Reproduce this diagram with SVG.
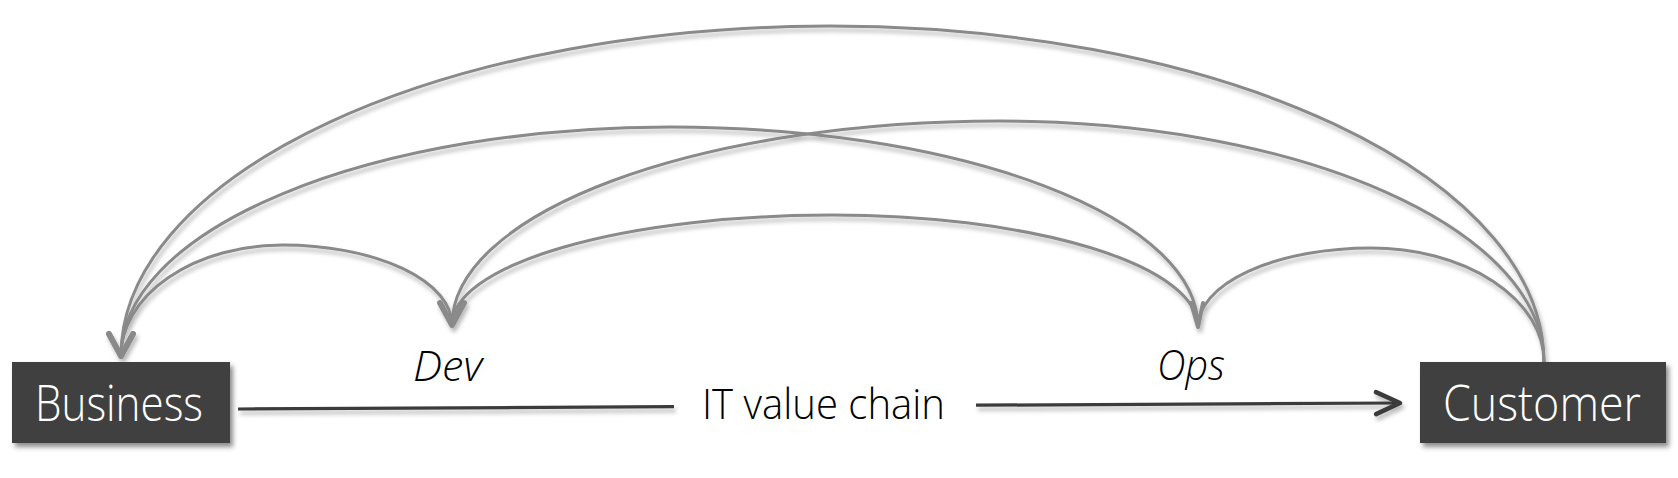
<svg xmlns="http://www.w3.org/2000/svg" width="1678" height="478" viewBox="0 0 1678 478">
  <style>
    .box { fill: #414141; }
    .boxtext { font-family: "Open Sans", "Liberation Sans", sans-serif; font-weight: 300; font-size: 49px; fill: #ffffff; }
    .label { font-family: "Open Sans", "Liberation Sans", sans-serif; font-weight: 300; font-size: 42px; fill: #000000; }
    .italic { font-style: italic; }
    .arc { fill: none; stroke: #8a8a8a; stroke-width: 3; }
    .chain { fill: none; stroke: #3a3a3a; stroke-width: 3.2; }
  </style>
  <defs>
    <filter id="shadow" x="-10%" y="-10%" width="130%" height="140%">
      <feDropShadow dx="3" dy="4" stdDeviation="2.5" flood-color="#000000" flood-opacity="0.45"/>
    </filter>
    <filter id="lineShadow" x="-5%" y="-20%" width="110%" height="150%">
      <feDropShadow dx="2" dy="4" stdDeviation="2" flood-color="#000000" flood-opacity="0.28"/>
    </filter>
    <marker id="grayArrow" markerUnits="userSpaceOnUse" viewBox="-30 -16 34 32" markerWidth="34" markerHeight="32" refX="0" refY="0" orient="auto" overflow="visible">
      <path d="M-22,-12 L0,0 L-22,12" fill="none" stroke="#8a8a8a" stroke-width="5.5" stroke-linecap="round" stroke-linejoin="round"/>
    </marker>
    <marker id="grayArrowNarrow" markerUnits="userSpaceOnUse" viewBox="-30 -16 34 32" markerWidth="34" markerHeight="32" refX="0" refY="0" orient="auto" overflow="visible">
      <path d="M-24,-5 L0,0 L-24,7" fill="none" stroke="#8a8a8a" stroke-width="4" stroke-linecap="round" stroke-linejoin="round"/>
    </marker>
    <marker id="darkArrow" markerUnits="userSpaceOnUse" viewBox="-30 -16 34 32" markerWidth="34" markerHeight="32" refX="0" refY="0" orient="auto" overflow="visible">
      <path d="M-24,-11 L0,0 L-24,11" fill="none" stroke="#3a3a3a" stroke-width="4.5" stroke-linecap="round" stroke-linejoin="round"/>
    </marker>
  </defs>

  <g id="connectors" filter="url(#lineShadow)">
    <path id="customer-to-business" class="arc" d="M1544,362 A714,336 0 0 0 830,26 A709,330 0 0 0 121,356" marker-end="url(#grayArrow)"/>
    <path id="ops-to-business" class="arc" d="M1198,327 A528,200 0 0 0 670,127 A549,229 0 0 0 121,356" marker-end="url(#grayArrow)"/>
    <path id="dev-to-business" class="arc" d="M452,325 A169,80 0 0 0 283,245 A162,111 0 0 0 121,356" marker-end="url(#grayArrow)"/>
    <path id="customer-to-dev" class="arc" d="M1544,362 A544,241 0 0 0 1000,121 A548,204 0 0 0 452,325" marker-end="url(#grayArrow)"/>
    <path id="ops-to-dev" class="arc" d="M1198,327 A366,112 0 0 0 832,215 A380,110 0 0 0 452,325" marker-end="url(#grayArrow)"/>
    <path id="customer-to-ops" class="arc" d="M1544,362 A173,114 0 0 0 1371,248 A173,79 0 0 0 1198,327" marker-end="url(#grayArrowNarrow)"/>
    <line id="chain-left" class="chain" x1="238" y1="409" x2="674" y2="406.7"/>
    <line id="chain-right" class="chain" x1="976" y1="405.2" x2="1400" y2="403" marker-end="url(#darkArrow)"/>
  </g>

  <g id="node-business">
    <rect class="box" x="12" y="362" width="218" height="81" filter="url(#shadow)"/>
    <text class="boxtext" x="35" y="421" textLength="168" lengthAdjust="spacingAndGlyphs">Business</text>
  </g>

  <g id="node-customer">
    <rect class="box" x="1420" y="362" width="246" height="81" filter="url(#shadow)"/>
    <text class="boxtext" x="1443" y="421" textLength="198" lengthAdjust="spacingAndGlyphs">Customer</text>
  </g>

  <g id="label-dev">
    <text class="label italic" x="413" y="381" textLength="69" lengthAdjust="spacingAndGlyphs">Dev</text>
  </g>

  <g id="label-ops">
    <text class="label italic" x="1157" y="380" textLength="68" lengthAdjust="spacingAndGlyphs">Ops</text>
  </g>

  <g id="label-chain">
    <text class="label" x="702" y="419" textLength="243" lengthAdjust="spacingAndGlyphs">IT value chain</text>
  </g>
</svg>
